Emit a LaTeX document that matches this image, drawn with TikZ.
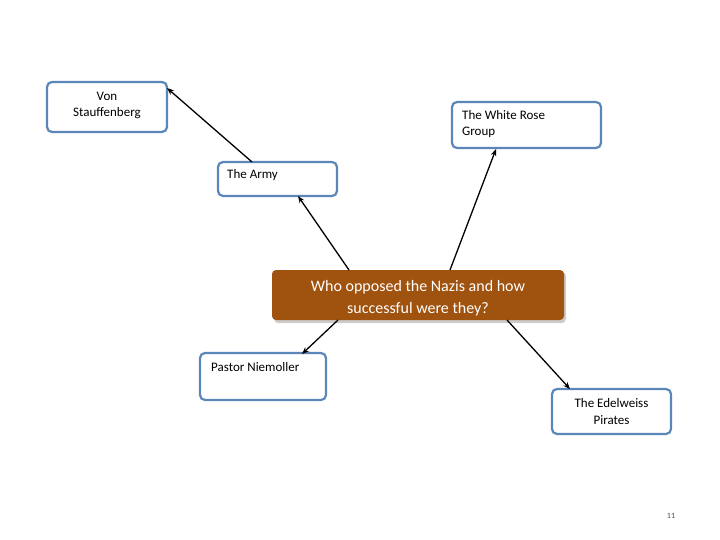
\documentclass[tikz,border=0pt]{standalone}
\usepackage{fontspec}
\setmainfont{Carlito}
\usetikzlibrary{arrows.meta}
\definecolor{bord}{HTML}{5B86B8}
\definecolor{brn}{HTML}{A0520F}
\begin{document}
\begin{tikzpicture}[x=1pt,y=-1pt,
 box/.style={draw=bord,line width=2.2pt,rounded corners=5pt,fill=white},
 txt/.style={font=\fontsize{13}{16.5}\selectfont,inner sep=0,align=left},
 con/.style={line width=1.3pt,-{Stealth[length=7pt,width=5.5pt]}}]
\useasboundingbox (0,0) rectangle (720,540);
\draw[box] (47,82) rectangle (167,132);
\node[txt,align=center] (vs) at (107,105.5) {Von\\Stauffenberg};
\draw[box] (452,102) rectangle (601,148);
\node[txt,anchor=north west] (wr) at (462,110) {The White Rose\\Group};
\draw[box] (218,162) rectangle (337,196);
\node[txt,anchor=north west] (ar) at (227,169) {The Army};
\draw[box] (200,353) rectangle (326,400);
\node[txt,anchor=north west] (pn) at (211,362) {Pastor Niemoller};
\draw[box] (552,389) rectangle (671,434);
\node[txt,align=center] (ep) at (611.5,411.5) {The Edelweiss\\Pirates};
\fill[gray!40,rounded corners=4pt] (274,272) rectangle (566,323);
\fill[brn,rounded corners=4pt] (272,270) rectangle (564,320);
\node[font=\fontsize{16}{22}\selectfont,text=white,align=center,inner sep=0] (c) at (418,298) {Who opposed the Nazis and how\\successful were they?};
\coordinate (c1) at (349,270); \coordinate (c2) at (450,270);
\coordinate (c3) at (338,320); \coordinate (c4) at (507,320);
\coordinate (a1) at (252,162);
\coordinate (t1) at (167,88); \coordinate (t2) at (496,149);
\coordinate (t3) at (298,196); \coordinate (t4) at (302,354);
\coordinate (t5) at (570,389);
\draw[con] (a1) -- (t1);
\draw[con] (c2) -- (t2);
\draw[con] (c1) -- (t3);
\draw[con] (c3) -- (t4);
\draw[con] (c4) -- (t5);
\node[font=\fontsize{8}{9}\selectfont,text=gray!60!black] (pg) at (671,516) {11};
\end{tikzpicture}
\end{document}
